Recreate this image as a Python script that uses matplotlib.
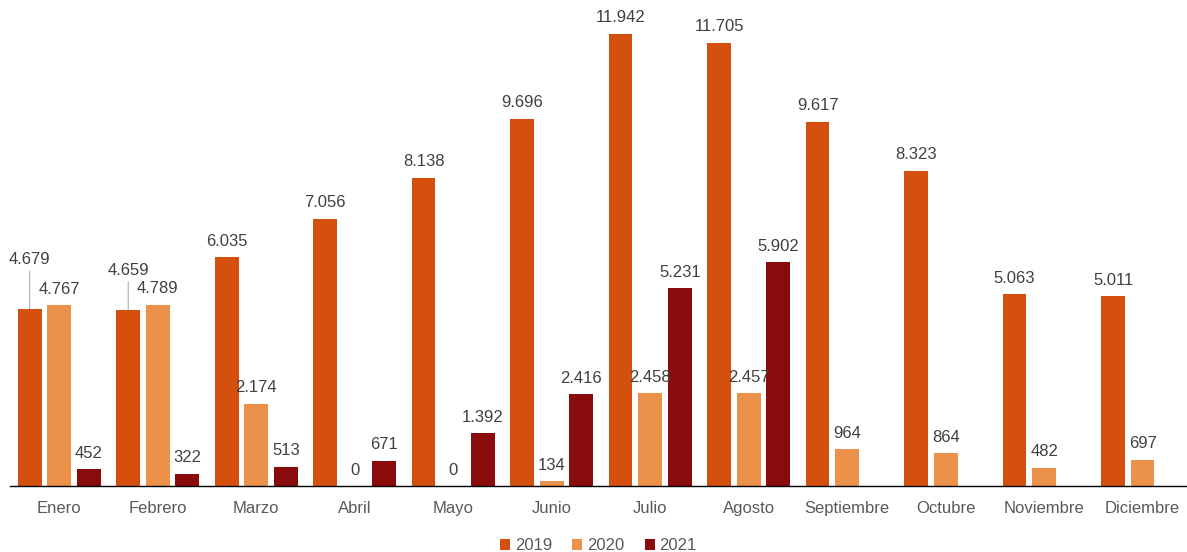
import matplotlib.pyplot as plt
import numpy as np

meses = ["Enero", "Febrero", "Marzo", "Abril", "Mayo", "Junio", "Julio",
         "Agosto", "Septiembre", "Octubre", "Noviembre", "Diciembre"]
v2019 = [4679, 4659, 6035, 7056, 8138, 9696, 11942, 11705, 9617, 8323, 5063, 5011]
v2020 = [4767, 4789, 2174, 0, 0, 134, 2458, 2457, 964, 864, 482, 697]
v2021 = [452, 322, 513, 671, 1392, 2416, 5231, 5902, None, None, None, None]

series = [("2019", v2019, "#D54F0F"), ("2020", v2020, "#EC914A"), ("2021", v2021, "#8A0B0B")]

plt.rcParams['font.family'] = ['Liberation Sans', 'DejaVu Sans']

fig = plt.figure(figsize=(11.87, 5.52), dpi=100)
ax = fig.add_axes([10 / 1187, 66 / 552, 1177 / 1187, 481 / 552])

x = np.arange(len(meses))
w = 0.24
offsets = [-0.3, 0.0, 0.3]


def fmt(v):
    return f"{v:,}".replace(",", ".")


for (name, vals, col), off in zip(series, offsets):
    xs = [xi + off for xi, v in zip(x, vals) if v is not None]
    ys = [v for v in vals if v is not None]
    ax.bar(xs, ys, w, color=col, label=name)
    for xi, v in zip(xs, ys):
        if name == "2019" and v in (4679, 4659):
            # label lifted with leader line (as in original)
            lift = 30 if v == 4679 else 23
            ax.annotate(fmt(v), (xi, v), xytext=(0, lift), textcoords="offset points",
                        ha="center", va="bottom", fontsize=12, color="#404040",
                        arrowprops=dict(arrowstyle="-", color="#a0a0a0", lw=0.7,
                                        shrinkA=1, shrinkB=0))
        else:
            ax.annotate(fmt(v), (xi, v), xytext=(0, 6), textcoords="offset points",
                        ha="center", va="bottom", fontsize=12, color="#404040")

ax.set_xlim(-0.5, len(meses) - 0.55)
ax.set_ylim(0, 12700)
ax.set_xticks(x)
ax.set_xticklabels(meses, fontsize=12, color="#595959")
ax.tick_params(axis="x", length=0, pad=11)
ax.set_yticks([])
for s in ["top", "right", "left"]:
    ax.spines[s].set_visible(False)
ax.spines["bottom"].set_color("black")
ax.spines["bottom"].set_linewidth(1)

ax.legend(loc="center", bbox_to_anchor=(0.5, -60 / 481), ncol=3, frameon=False,
          fontsize=12, handlelength=0.6, handleheight=0.6, handletextpad=0.3,
          columnspacing=1.2, labelcolor="#595959", borderpad=0)

fig.savefig("out.png", dpi=100)
